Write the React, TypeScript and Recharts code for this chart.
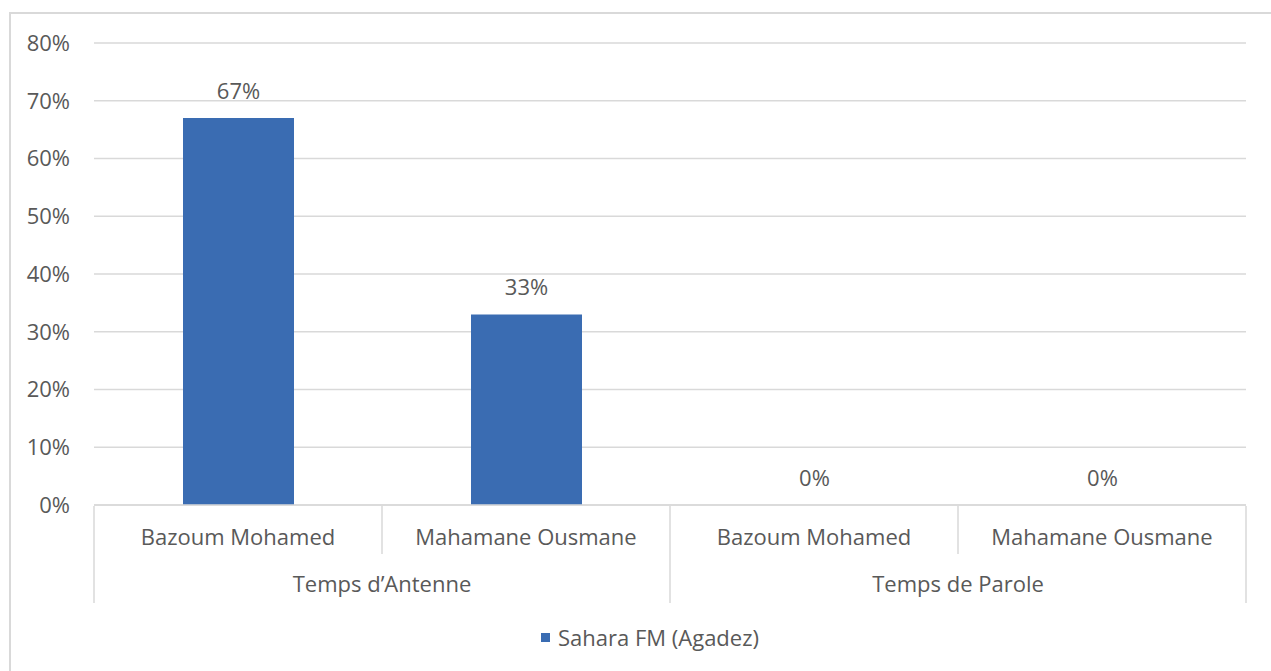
import React from "react";
import {
  BarChart,
  Bar,
  XAxis,
  YAxis,
  CartesianGrid,
  LabelList,
  Legend,
} from "recharts";

// Categories (inner level), their parent groups (outer level) and values
const candidates = ["Bazoum Mohamed", "Mahamane Ousmane", "Bazoum Mohamed", "Mahamane Ousmane"];
const measures = ["Temps d’Antenne", "Temps d’Antenne", "Temps de Parole", "Temps de Parole"];
const saharaFm = [0.67, 0.33, 0, 0];
const yTicks = [0, 0.1, 0.2, 0.3, 0.4, 0.5, 0.6, 0.7, 0.8];
const seriesName = "Sahara FM (Agadez)";

const data = candidates.map((name, i) => ({
  key: `${measures[i]}-${name}`,
  slot: i,
  name,
  group: measures[i],
  value: saharaFm[i],
}));

// Category boundaries 0..n and the ones that also close a group
const boundaryTicks = Array.from({ length: data.length + 1 }, (_, i) => i);
const isGroupBoundary = (i: number) =>
  i === 0 || i === data.length || measures[i] !== measures[i - 1];

// Group centres on the boundary scale
const groupCentres: { pos: number; label: string }[] = [];
{
  let start = 0;
  for (let i = 1; i <= data.length; i++) {
    if (i === data.length || measures[i] !== measures[i - 1]) {
      groupCentres.push({ pos: (start + i) / 2, label: measures[start] });
      start = i;
    }
  }
}

const FONT = "'Open Sans', sans-serif";
const FS = 22;
const TEXT = "#595959";
const LINE = "#d9d9d9";
const BAR = "#3a6cb2";

const pct = (v: number) => `${Math.round(v * 100)}%`;

const ValueTick = (props: any) => {
  const { x, y, payload } = props;
  return (
    <text x={x} y={y} dy="0.36em" textAnchor="end" fill={TEXT} fontSize={FS} fontFamily={FONT}>
      {pct(Number(payload.value))}
    </text>
  );
};

const CategoryTick = (props: any) => {
  const { x, y, payload } = props;
  const item = data[payload.index];
  return (
    <text x={x} y={y + 40} textAnchor="middle" fill={TEXT} fontSize={FS} fontFamily={FONT}>
      {item ? item.name : payload.value}
    </text>
  );
};

const SeparatorTick = (props: any) => {
  const { x, y, payload } = props;
  const len = isGroupBoundary(payload.value) ? 96 : 47;
  return <line x1={x} x2={x} y1={y - 1} y2={y + len} stroke={LINE} strokeWidth={1.5} />;
};

const GroupTick = (props: any) => {
  const { x, y, payload } = props;
  const g = groupCentres.find((c) => c.pos === payload.value);
  return (
    <text x={x} y={y + 86} textAnchor="middle" fill={TEXT} fontSize={FS} fontFamily={FONT}>
      {g ? g.label : ""}
    </text>
  );
};

const LegendContent = () => (
  <div style={{ display: "flex", alignItems: "center", fontFamily: FONT, fontSize: FS, color: TEXT, whiteSpace: "nowrap" }}>
    <span style={{ display: "inline-block", width: 9, height: 9, background: BAR, marginRight: 8 }} />
    <span>{seriesName}</span>
  </div>
);

export default function App() {
  return (
    <div style={{ position: "fixed", left: 0, top: 0, width: 1271, height: 671, overflow: "hidden", background: "#fff" }}>
      <div
        style={{
          position: "absolute",
          left: 9,
          top: 12,
          width: 1300,
          height: 700,
          borderTop: `2px solid ${LINE}`,
          borderLeft: `2px solid ${LINE}`,
          boxSizing: "border-box",
        }}
      />
      <div style={{ position: "absolute", left: 0, top: 0 }}>
        <BarChart
          width={1271}
          height={671}
          data={data}
          margin={{ top: 43, right: 25, left: 34, bottom: 163 }}
        >
          <CartesianGrid vertical={false} stroke={LINE} strokeWidth={1.5} />
          <XAxis
            dataKey="key"
            height={1}
            tickSize={0}
            tickMargin={0}
            tickLine={false}
            axisLine={{ stroke: LINE, strokeWidth: 1.5 }}
            interval={0}
            tick={<CategoryTick />}
          />
          <XAxis
            xAxisId="sep"
            dataKey="slot"
            type="number"
            domain={[0, data.length]}
            ticks={boundaryTicks}
            allowDataOverflow
            height={1}
            tickSize={0}
            tickMargin={0}
            tickLine={false}
            axisLine={false}
            interval={0}
            tick={<SeparatorTick />}
          />
          <XAxis
            xAxisId="grp"
            dataKey="slot"
            type="number"
            domain={[0, data.length]}
            ticks={groupCentres.map((g) => g.pos)}
            allowDataOverflow
            height={1}
            tickSize={0}
            tickMargin={0}
            tickLine={false}
            axisLine={false}
            interval={0}
            tick={<GroupTick />}
          />
          <YAxis
            width={60}
            domain={[0, 0.8]}
            ticks={yTicks}
            axisLine={false}
            tickLine={false}
            tickSize={0}
            tickMargin={24}
            interval={0}
            tick={<ValueTick />}
          />
          <Legend
            layout="vertical"
            align="center"
            verticalAlign="middle"
            wrapperStyle={{ left: 541, top: 622, width: "auto", height: "auto" }}
            content={<LegendContent />}
          />
          <Bar
            dataKey="value"
            name={seriesName}
            fill={BAR}
            barSize={111}
            minPointSize={0.01}
            isAnimationActive={false}
          >
            <LabelList
              dataKey="value"
              position="top"
              offset={19}
              formatter={(v: any) => pct(Number(v))}
              fill={TEXT}
              fontSize={FS}
              fontFamily={FONT}
            />
          </Bar>
        </BarChart>
      </div>
    </div>
  );
}
